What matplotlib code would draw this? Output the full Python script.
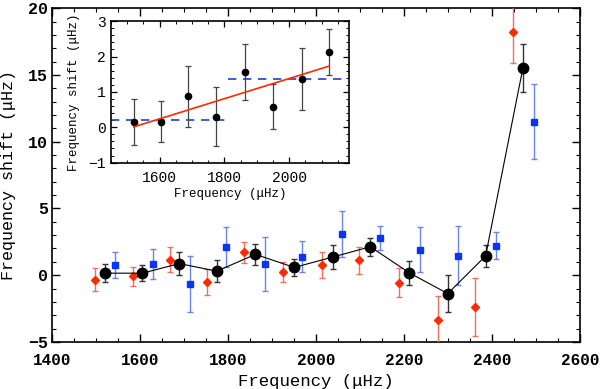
import matplotlib
matplotlib.use("Agg")
import matplotlib.pyplot as plt
from matplotlib.ticker import MultipleLocator
import numpy as np

# Combined (black) points
comb_x = [1520, 1605, 1689, 1774, 1862, 1950, 2038, 2123, 2212, 2299, 2385, 2470]
comb_y = [0.15, 0.15, 0.87, 0.30, 1.56, 0.58, 1.36, 2.13, 0.17, -1.38, 1.44, 15.55]
comb_e = [0.65, 0.58, 0.86, 0.84, 0.79, 0.64, 0.87, 0.66, 0.90, 1.40, 0.83, 1.80]

# Red diamonds
red_x = [1498, 1584, 1668, 1752, 1836, 1925, 2013, 2098, 2188, 2276, 2360, 2448]
red_y = [-0.33, -0.08, 1.17, -0.50, 1.72, 0.22, 0.74, 1.12, -0.55, -3.38, -2.38, 18.23]
red_e = [0.85, 0.70, 0.94, 0.97, 0.80, 0.76, 0.98, 1.00, 1.07, 1.85, 2.15, 2.30]

# Blue squares
blue_x = [1542, 1628, 1714, 1794, 1883, 1968, 2058, 2145, 2235, 2322, 2409, 2494]
blue_y = [0.77, 0.84, -0.63, 2.12, 0.84, 1.39, 3.09, 2.82, 1.92, 1.47, 2.22, 11.51]
blue_e = [1.00, 1.10, 2.10, 1.50, 2.05, 1.14, 1.71, 0.90, 1.67, 2.22, 0.98, 2.82]

# Inset: first 8 combined points
ins_n = 8
fit_x = [1520, 2123]
fit_y = [0.01, 1.73]
dash1_x = [1450, 1812]
dash1_y = [0.21, 0.21]
dash2_x = [1812, 2165]
dash2_y = [1.36, 1.36]

FONT = "Liberation Mono"
plt.rcParams['font.family'] = FONT

fig = plt.figure(figsize=(6.0, 3.89), dpi=100)
ax = fig.add_axes([0.087, 0.121, 0.880, 0.858])

ax.errorbar(red_x, red_y, yerr=red_e, fmt='D', color='#ff2a00', ms=4.5,
            ecolor='#f07060', elinewidth=1.0, capsize=2.5, capthick=1.0, zorder=3)
ax.errorbar(blue_x, blue_y, yerr=blue_e, fmt='s', color='#0a35f5', ms=4.0,
            ecolor='#6a85e8', elinewidth=1.0, capsize=2.5, capthick=1.0, zorder=3)
ax.errorbar(comb_x, comb_y, yerr=comb_e, fmt='o', color='black', ms=7.5,
            ecolor='#333333', elinewidth=1.0, capsize=2.5, capthick=1.0, zorder=4)
ax.plot(comb_x, comb_y, '-', color='black', lw=0.8, zorder=4)

ax.set_xlim(1400, 2600)
ax.set_ylim(-5, 20)
ax.xaxis.set_major_locator(MultipleLocator(200))
ax.xaxis.set_minor_locator(MultipleLocator(50))
ax.yaxis.set_major_locator(MultipleLocator(5))
ax.yaxis.set_minor_locator(MultipleLocator(1))
ax.tick_params(which='both', direction='in', top=True, right=True)
ax.tick_params(axis='x', which='major', pad=8, labelsize=11.5)
ax.tick_params(axis='y', which='major', pad=3, labelsize=12)
ax.tick_params(which='major', length=6, width=1.0)
ax.tick_params(which='minor', length=3, width=0.8)
for lab in ax.get_xticklabels() + ax.get_yticklabels():
    lab.set_fontweight('bold')
ax.set_xlabel('Frequency (μHz)', fontsize=12.5, labelpad=4)
ax.set_ylabel('Frequency shift (μHz)', fontsize=12, labelpad=9)
for s in ax.spines.values():
    s.set_linewidth(1.2)

# Inset
ins = fig.add_axes([0.185, 0.582, 0.397, 0.3635])
ins.errorbar(comb_x[:ins_n], comb_y[:ins_n], yerr=comb_e[:ins_n], fmt='o', color='black',
             ms=4.5, ecolor='#444444', elinewidth=0.9, capsize=2.5, capthick=0.9, zorder=3)
ins.plot(fit_x, fit_y, '-', color='#ff2a00', lw=1.2, zorder=4)
ins.plot(dash1_x, dash1_y, '--', color='#2040d0', lw=1.2, dashes=(5, 4))
ins.plot(dash2_x, dash2_y, '--', color='#2040d0', lw=1.2, dashes=(5, 4))
ins.set_xlim(1450, 2185)
ins.set_ylim(-1, 3)
ins.xaxis.set_major_locator(MultipleLocator(200))
ins.xaxis.set_minor_locator(MultipleLocator(50))
ins.yaxis.set_major_locator(MultipleLocator(1))
ins.yaxis.set_minor_locator(MultipleLocator(0.2))
ins.tick_params(which='both', direction='in', top=True, right=True, labelsize=10.5)
ins.tick_params(axis='x', which='major', pad=6)
ins.tick_params(axis='y', which='major', pad=4)
ins.tick_params(which='major', length=4, width=0.9)
ins.tick_params(which='minor', length=2, width=0.7)
ins.set_xlabel('Frequency (μHz)', fontsize=9, labelpad=2)
ins.set_ylabel('Frequency shift (μHz)', fontsize=9, labelpad=6)
for s in ins.spines.values():
    s.set_linewidth(1.2)

fig.savefig('out.png', dpi=100)
